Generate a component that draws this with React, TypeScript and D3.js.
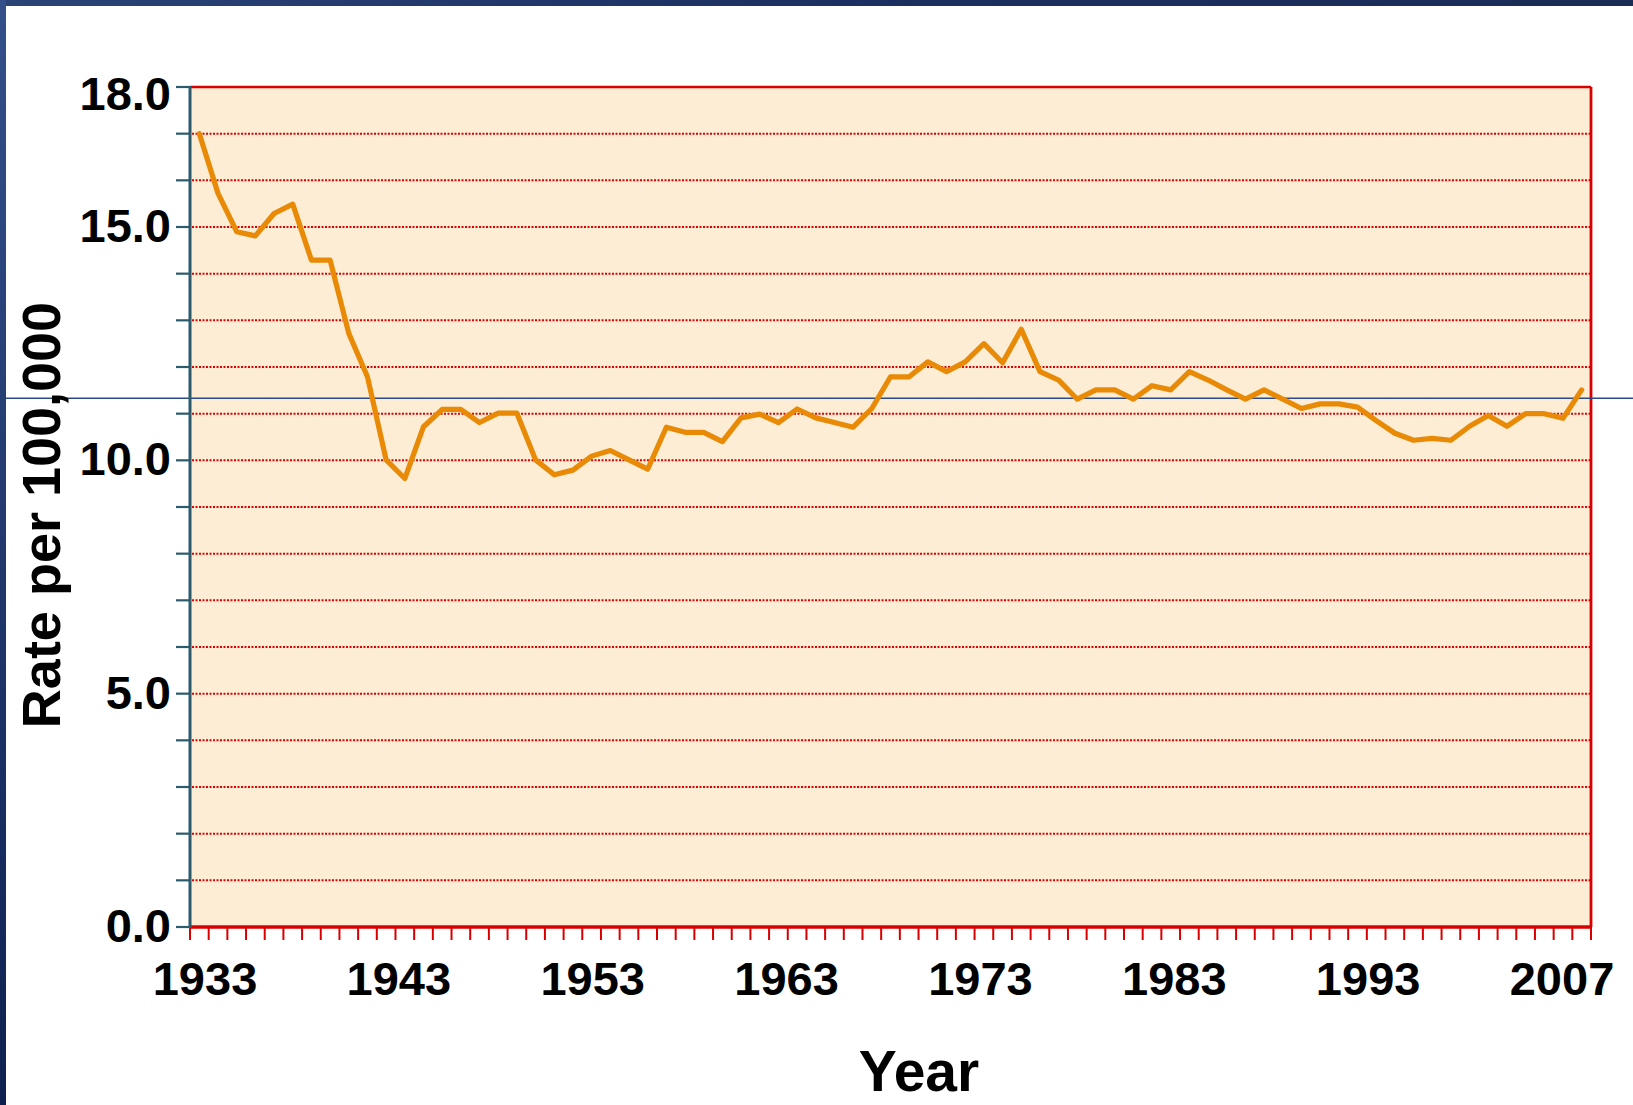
import React from "react";
import * as d3 from "d3";

const years = [
  1933, 1934, 1935, 1936, 1937, 1938, 1939, 1940, 1941, 1942,
  1943, 1944, 1945, 1946, 1947, 1948, 1949, 1950, 1951, 1952,
  1953, 1954, 1955, 1956, 1957, 1958, 1959, 1960, 1961, 1962,
  1963, 1964, 1965, 1966, 1967, 1968, 1969, 1970, 1971, 1972,
  1973, 1974, 1975, 1976, 1977, 1978, 1979, 1980, 1981, 1982,
  1983, 1984, 1985, 1986, 1987, 1988, 1989, 1990, 1991, 1992,
  1993, 1994, 1995, 1996, 1997, 1998, 1999, 2000, 2001, 2002,
  2003, 2004, 2005, 2006, 2007,
];

const rates = [
  17.0, 15.72, 14.9, 14.81, 15.29, 15.49, 14.29, 14.29, 12.72, 11.79,
  10.01, 9.61, 10.72, 11.09, 11.09, 10.81, 11.01, 11.01, 10.01, 9.69,
  9.79, 10.09, 10.21, 10.01, 9.81, 10.71, 10.6, 10.6, 10.4, 10.91,
  10.99, 10.81, 11.1, 10.91, 10.81, 10.71, 11.11, 11.79, 11.79, 12.11,
  11.9, 12.11, 12.5, 12.09, 12.81, 11.9, 11.72, 11.31, 11.51, 11.51,
  11.31, 11.6, 11.51, 11.9, 11.72, 11.51, 11.31, 11.51, 11.31, 11.11,
  11.21, 11.21, 11.14, 10.85, 10.58, 10.43, 10.47, 10.43, 10.73, 10.96,
  10.73, 11.0, 11.0, 10.9, 11.51,
];

const xTickLabels = ["1933", "1943", "1953", "1963", "1973", "1983", "1993", "2007"];
const yLabelValues = [18, 15, 10, 5, 0];
const yMinorValues = [0, 1, 2, 3, 4, 5, 6, 7, 8, 9, 10, 11, 12, 13, 14, 15, 16, 17, 18];
const referenceRate = 11.33;
const yTitle = "Rate per 100,000";
const xTitle = "Year";

const W = 1633;
const H = 1105;
const plot = { left: 190, top: 87, right: 1591, bottom: 927 };
const FONT = "'Liberation Sans', Arial, Helvetica, sans-serif";

export default function App() {
  const x = d3.scaleBand<number>().domain(years).range([plot.left, plot.right]).padding(0);
  const y = d3.scaleLinear().domain([0, 18]).range([plot.bottom, plot.top]);
  const xLab = d3.scalePoint<string>().domain(xTickLabels).range([plot.left + 15, plot.right - 29]);
  const fmt = d3.format(".1f");

  const pts: [number, number][] = years.map((yr, i) => [x(yr)! + x.bandwidth() / 2, y(rates[i])]);
  const line = d3.line().curve(d3.curveLinear)(pts) || "";

  const boundaries = years.map((yr) => x(yr)!).concat([plot.right]);

  return (
    <svg
      width={W}
      height={H}
      viewBox={`0 0 ${W} ${H}`}
      style={{ position: "absolute", left: 0, top: 0, background: "#ffffff", display: "block" }}
    >
      <defs>
        <linearGradient id="topBar" x1="0" x2="1" y1="0" y2="0">
          <stop offset="0%" stopColor="#2a4478" />
          <stop offset="50%" stopColor="#1c3061" />
          <stop offset="100%" stopColor="#1a2b55" />
        </linearGradient>
        <linearGradient id="leftBar" x1="0" x2="0" y1="0" y2="1">
          <stop offset="0%" stopColor="#34508a" />
          <stop offset="100%" stopColor="#0e2150" />
        </linearGradient>
      </defs>
      <rect x={0} y={0} width={W} height={H} fill="#ffffff" />

      {/* plot background */}
      <rect
        x={plot.left}
        y={plot.top}
        width={plot.right - plot.left}
        height={plot.bottom - plot.top}
        fill="#FDEDD5"
      />

      {/* dotted gridlines */}
      {yMinorValues
        .filter((v) => v > 0 && v < 18)
        .map((v) => (
          <line
            key={"g" + v}
            x1={plot.left + 2}
            x2={plot.right - 1}
            y1={y(v)}
            y2={y(v)}
            stroke="#E00000"
            strokeWidth={2}
            strokeDasharray="2 1.5"
          />
        ))}

      {/* top & right border */}
      <line x1={plot.left} x2={plot.right} y1={plot.top} y2={plot.top} stroke="#D80000" strokeWidth={2.5} />
      <line x1={plot.right} x2={plot.right} y1={plot.top} y2={plot.bottom} stroke="#D80000" strokeWidth={2.8} />

      {/* reference line */}
      <line x1={6} x2={W} y1={y(referenceRate)} y2={y(referenceRate)} stroke="#2a4a8a" strokeWidth={1.5} />

      {/* y axis ticks */}
      {yMinorValues.map((v) => (
        <line
          key={"yt" + v}
          x1={plot.left - 14}
          x2={plot.left}
          y1={y(v)}
          y2={y(v)}
          stroke="#2B5B6C"
          strokeWidth={2.2}
        />
      ))}

      {/* x axis ticks */}
      {boundaries.map((bx, i) => (
        <line
          key={"xt" + i}
          x1={bx}
          x2={bx}
          y1={plot.bottom}
          y2={plot.bottom + 13}
          stroke="#D80000"
          strokeWidth={2}
        />
      ))}

      {/* data line */}
      <path d={line} fill="none" stroke="#E88A05" strokeWidth={5.2} strokeLinejoin="round" strokeLinecap="round" />

      {/* axes lines */}
      <line x1={plot.left} x2={plot.right + 1} y1={plot.bottom} y2={plot.bottom} stroke="#D80000" strokeWidth={3.5} />
      <line x1={plot.left} x2={plot.left} y1={plot.top - 1} y2={plot.bottom + 1} stroke="#2B5B6C" strokeWidth={3} />

      {/* y labels */}
      {yLabelValues.map((v) => {
        const cy = Math.max(y(v) - 2, plot.top + 6);
        return (
          <text
            key={"yl" + v}
            x={171}
            y={cy + 17}
            textAnchor="end"
            fontFamily={FONT}
            fontWeight="bold"
            fontSize={47}
            fill="#000"
          >
            {fmt(v)}
          </text>
        );
      })}

      {/* x labels */}
      {xTickLabels.map((lab) => (
        <text
          key={"xl" + lab}
          x={xLab(lab)}
          y={995}
          textAnchor="middle"
          fontFamily={FONT}
          fontWeight="bold"
          fontSize={47}
          fill="#000"
        >
          {lab}
        </text>
      ))}

      {/* titles */}
      <text
        transform={`translate(60, 515) rotate(-90)`}
        textAnchor="middle"
        fontFamily={FONT}
        fontWeight="bold"
        fontSize={54}
        fill="#000"
      >
        {yTitle}
      </text>
      <text x={919} y={1091} textAnchor="middle" fontFamily={FONT} fontWeight="bold" fontSize={57} fill="#000">
        {xTitle}
      </text>

      {/* frame bars */}
      <rect x={0} y={0} width={W} height={6} fill="url(#topBar)" />
      <rect x={0} y={0} width={6} height={H} fill="url(#leftBar)" />
    </svg>
  );
}
